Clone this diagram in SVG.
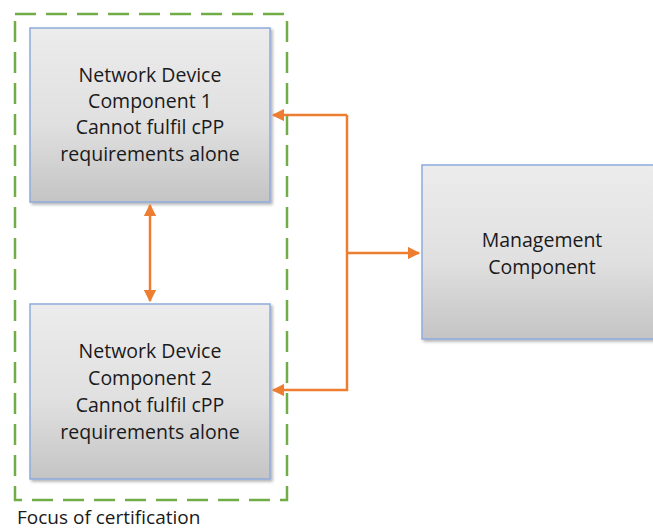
<svg xmlns="http://www.w3.org/2000/svg" width="653" height="531" viewBox="0 0 653 531">
<style>
.box{fill:url(#g);stroke:#8faadc;stroke-width:1.5}
.t{font-family:"Open Sans","Liberation Sans",sans-serif;font-size:19.5px;fill:#1a1a1a;text-anchor:middle}
.c{fill:none;stroke:#ed7d31;stroke-width:2.5}
</style>
<defs>
<linearGradient id="g" x1="0" y1="0" x2="0" y2="1">
<stop offset="0" stop-color="#ececec"/>
<stop offset="0.55" stop-color="#e0e0e0"/>
<stop offset="1" stop-color="#c4c4c4"/>
</linearGradient>
<filter id="sh" x="-10%" y="-10%" width="120%" height="120%">
<feDropShadow dx="2" dy="2" stdDeviation="1.5" flood-color="#000" flood-opacity="0.3"/>
</filter>
<marker id="a" viewBox="0 0 10 10" refX="9" refY="5" markerWidth="5" markerHeight="5" orient="auto-start-reverse" markerUnits="strokeWidth">
<path d="M0,0 L10,5 L0,10 Z" fill="#ed7d31"/>
</marker>
</defs>
<rect id="focus" x="15" y="14" width="272" height="486" fill="none" stroke="#70ad47" stroke-width="2.5" stroke-dasharray="21,10"/>
<g id="n1">
<rect class="box" x="30" y="28" width="240" height="174" filter="url(#sh)"/>
<text class="t" x="150" y="82">Network Device</text>
<text class="t" x="150" y="108">Component 1</text>
<text class="t" x="150" y="134">Cannot fulfil cPP</text>
<text class="t" x="150" y="161">requirements alone</text>
</g>
<g id="n2">
<rect class="box" x="30" y="304" width="240" height="175" filter="url(#sh)"/>
<text class="t" x="150" y="358">Network Device</text>
<text class="t" x="150" y="385">Component 2</text>
<text class="t" x="150" y="412">Cannot fulfil cPP</text>
<text class="t" x="150" y="439">requirements alone</text>
</g>
<g id="mgmt">
<rect class="box" x="422" y="165" width="240" height="174" filter="url(#sh)"/>
<text class="t" x="542" y="247">Management</text>
<text class="t" x="542" y="274">Component</text>
</g>
<g id="connectors">
<path class="c" d="M150,205 L150,301" marker-start="url(#a)" marker-end="url(#a)"/>
<path class="c" d="M347,115 L347,390 L273,390" marker-end="url(#a)"/>
<path class="c" d="M347,115 L273,115" marker-end="url(#a)"/>
<path class="c" d="M347,253 L419,253" marker-end="url(#a)"/>
</g>
<text x="17" y="524" style="font-family:'Open Sans','Liberation Sans',sans-serif;font-size:19px;fill:#1a1a1a">Focus of certification</text>
</svg>
